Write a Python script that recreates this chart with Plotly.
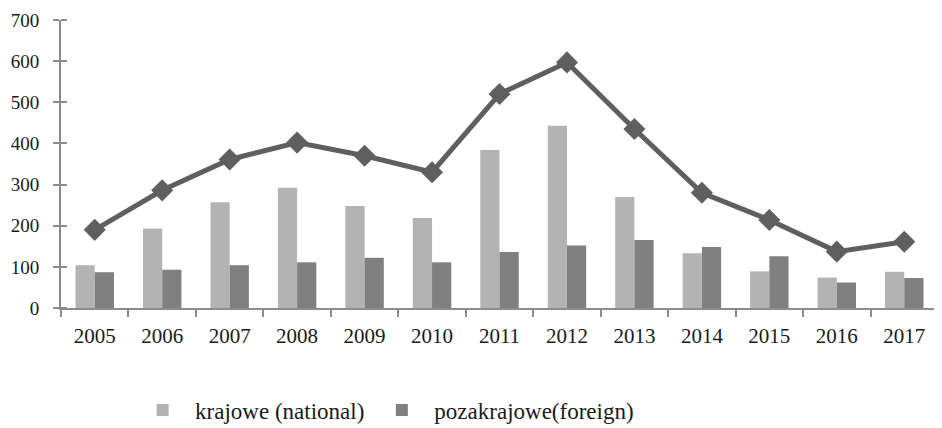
import plotly.graph_objects as go

years = ["2005", "2006", "2007", "2008", "2009", "2010", "2011", "2012", "2013", "2014", "2015", "2016", "2017"]
krajowe = [104, 193, 257, 292, 248, 219, 384, 443, 270, 133, 89, 74, 88]
pozakrajowe = [87, 93, 104, 111, 122, 111, 136, 152, 165, 148, 126, 62, 73]
total = [190, 286, 361, 402, 370, 330, 520, 597, 435, 280, 214, 137, 161]
y_ticks = [0, 100, 200, 300, 400, 500, 600, 700]

font_family = "Liberation Serif"
text_color = "#1a1a1a"
axis_color = "#8c8c8c"

fig = go.Figure()
fig.add_trace(go.Bar(x=years, y=krajowe, name="krajowe (national)",
                     marker=dict(color="#b3b3b3", line=dict(width=0))))
fig.add_trace(go.Bar(x=years, y=pozakrajowe, name="pozakrajowe(foreign)",
                     marker=dict(color="#808080", line=dict(width=0))))
fig.add_trace(go.Scatter(x=years, y=total, mode="lines+markers", showlegend=False,
                         line=dict(color="#5f5f5f", width=5),
                         marker=dict(symbol="diamond", size=17, color="#5f5f5f")))

fig.update_layout(
    width=934, height=428,
    margin=dict(l=53, r=4, t=12, b=125),
    paper_bgcolor="white", plot_bgcolor="white",
    barmode="group", bargap=0.43, bargroupgap=0,
    font=dict(family=font_family, size=20, color=text_color),
    legend=dict(orientation="h", x=0.369, xanchor="center", y=-0.354, yanchor="middle",
                font=dict(family=font_family, size=23, color=text_color),
                itemwidth=55, traceorder="normal"),
    xaxis=dict(range=[-0.5, 12.5], showline=True, linecolor=axis_color, linewidth=2,
               ticks="outside", tickson="boundaries", ticklen=7, tickcolor=axis_color,
               tickwidth=2, showgrid=False, ticklabelstandoff=8, automargin=False,
               tickfont=dict(family=font_family, size=21, color=text_color)),
    yaxis=dict(range=[0, 700], tickvals=y_ticks, showline=True, linecolor=axis_color,
               linewidth=2, ticks="outside", ticklen=6, tickcolor=axis_color, tickwidth=2,
               showgrid=False, zeroline=False, ticklabelstandoff=10, automargin=False,
               tickfont=dict(family=font_family, size=19, color=text_color),
               minor=dict(tickvals=y_ticks, ticks="inside", ticklen=6,
                          tickcolor=axis_color, tickwidth=2, showgrid=False)),
)

fig.write_html("out.html")
